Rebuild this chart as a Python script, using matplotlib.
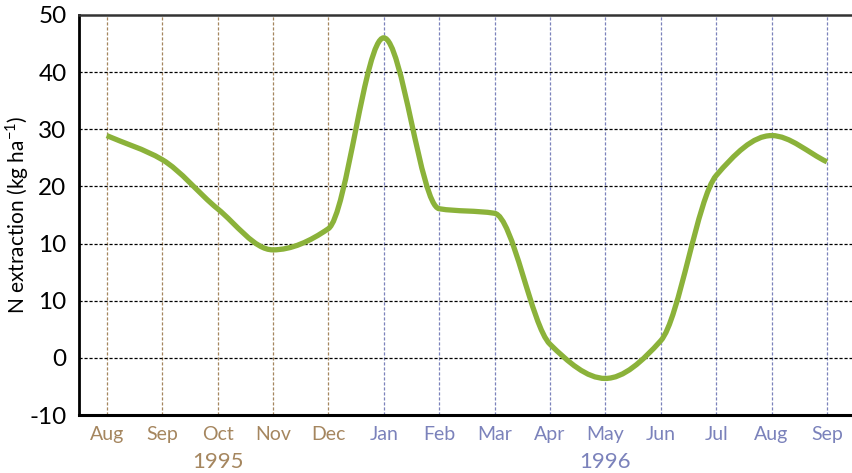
import matplotlib.pyplot as plt
import numpy as np
from matplotlib.path import Path
from matplotlib.patches import PathPatch

plt.rcParams['font.family'] = ['Lato', 'DejaVu Sans']
plt.rcParams['mathtext.fontset'] = 'custom'
plt.rcParams['mathtext.rm'] = 'Lato'

months = ["Aug", "Sep", "Oct", "Nov", "Dec", "Jan", "Feb", "Mar",
          "Apr", "May", "Jun", "Jul", "Aug", "Sep"]
years = ["1995"] * 5 + ["1996"] * 9
n_extraction = [38.9, 34.7, 26.1, 18.9, 22.6, 56.0, 26.1, 25.3,
                2.4, -3.6, 3.0, 31.9, 38.9, 34.3]
y_ticks = [-10, 0, 10, 20, 30, 40, 50, 60]
y_tick_labels = ["-10", "0", "10", "10", "20", "30", "40", "50"]

brown = "#a5865f"
blue = "#7b82bb"
green = "#8bb23a"

fig = plt.figure(figsize=(8.53, 4.73), dpi=100)
ax = fig.add_axes([0.0926, 0.1226, 0.9074, 0.8457])

x = np.arange(len(months))
y = np.array(n_extraction)

# smoothed line: monotone (Fritsch-Carlson) tangents, drawn as cubic Bezier
d = np.diff(y)
m = np.zeros_like(y)
m[0], m[-1] = d[0], d[-1]
for i in range(1, len(y) - 1):
    if d[i - 1] * d[i] > 0:
        m[i] = 2 / (1 / d[i - 1] + 1 / d[i])
verts = [(x[0], y[0])]
codes = [Path.MOVETO]
for i in range(len(y) - 1):
    verts += [(x[i] + 1 / 3, y[i] + m[i] / 3),
              (x[i + 1] - 1 / 3, y[i + 1] - m[i + 1] / 3),
              (x[i + 1], y[i + 1])]
    codes += [Path.CURVE4] * 3
ax.add_patch(PathPatch(Path(verts, codes), fill=False, edgecolor=green,
                       lw=3.8, capstyle='butt', zorder=3))

for xi, yr in zip(x, years):
    ax.axvline(xi, color=brown if yr == "1995" else blue, lw=0.9,
               ls=(0, (2.5, 1.5)), zorder=1)
for yt in y_ticks[1:-1]:
    ax.axhline(yt, color="black", lw=0.9, ls=(0, (2.5, 1.5)), zorder=1)

ax.set_xlim(-0.5, 13.47)
ax.set_ylim(-10, 60)
ax.set_yticks(y_ticks)
ax.set_yticklabels(y_tick_labels, fontsize=17.5)
ax.set_xticks(x)
ax.set_xticklabels(months, fontsize=14)
for lbl, yr in zip(ax.get_xticklabels(), years):
    lbl.set_color(brown if yr == "1995" else blue)
ax.tick_params(length=0, pad=9)
ax.tick_params(axis='x', pad=8)

ax.text(2, -0.118, "1995", transform=ax.get_xaxis_transform(), ha='center',
        va='center', fontsize=16, color=brown)
ax.text(9, -0.118, "1996", transform=ax.get_xaxis_transform(), ha='center',
        va='center', fontsize=16, color=blue)

ax.set_ylabel("N extraction (kg ha$^{-1}$)", fontsize=15)
ax.yaxis.set_label_coords(-0.062, 0.5)

ax.spines['right'].set_visible(False)
ax.spines['left'].set_linewidth(2)
ax.spines['bottom'].set_linewidth(2.2)
ax.spines['top'].set_linewidth(1.8)
ax.spines['top'].set_color("#333333")

fig.savefig("out.png", dpi=100)
